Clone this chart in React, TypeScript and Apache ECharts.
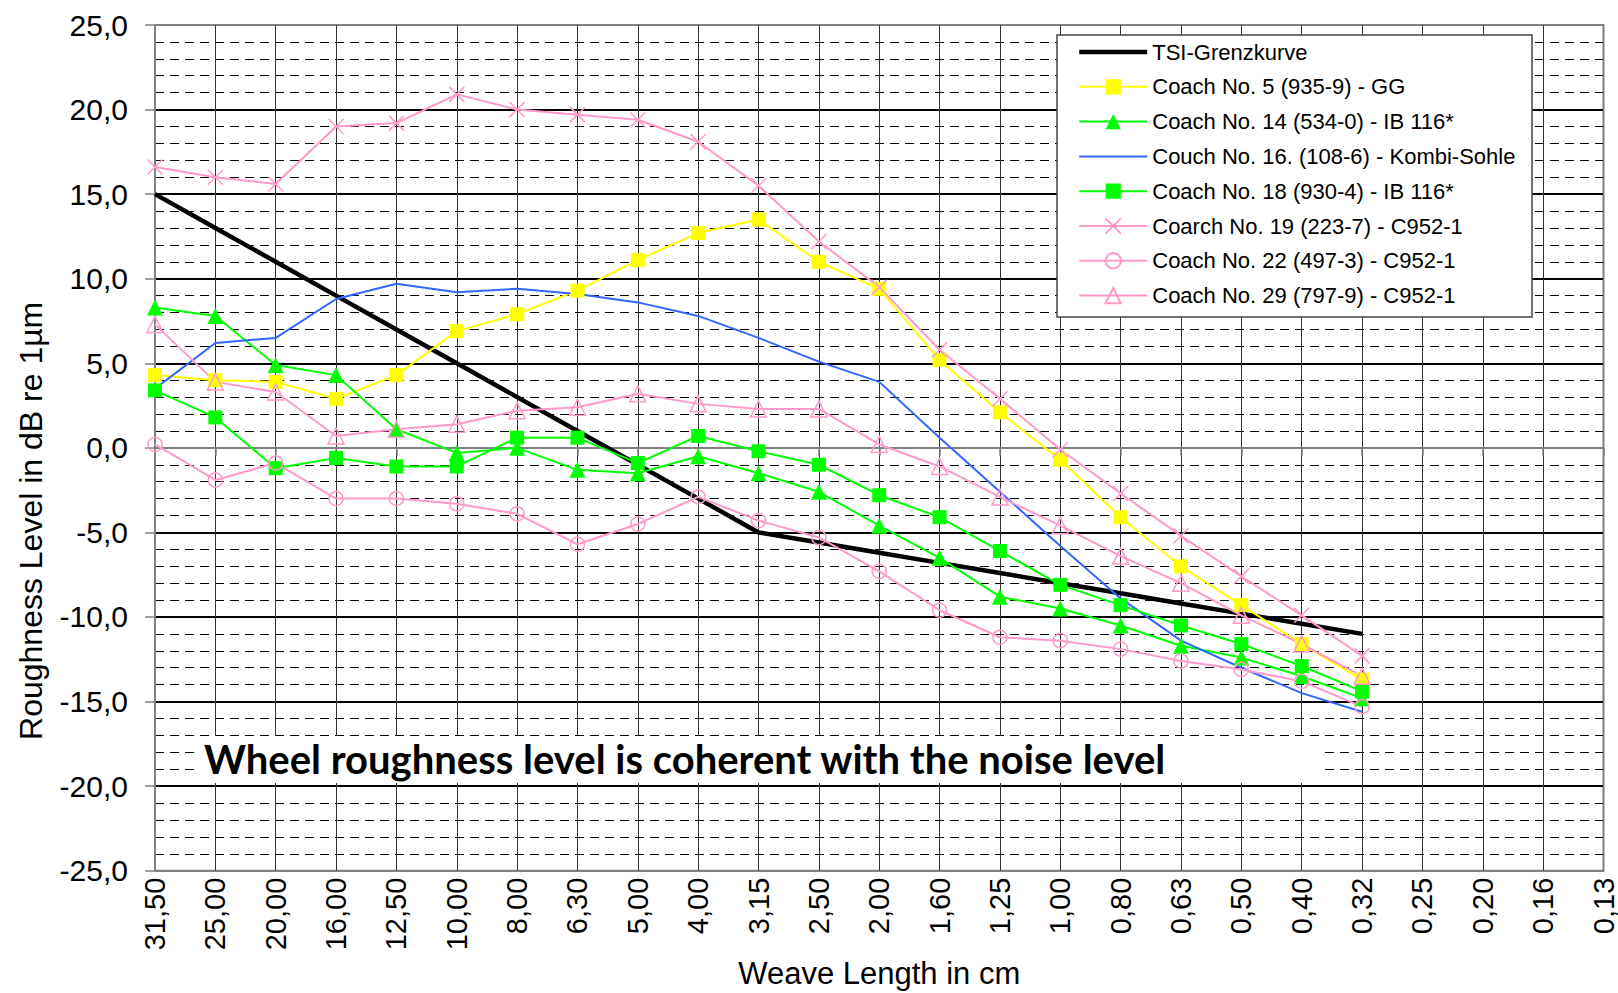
import React, { useEffect, useRef } from "react";
import * as echarts from "echarts";

const categories = [
  "31,50", "25,00", "20,00", "16,00", "12,50", "10,00", "8,00", "6,30", "5,00",
  "4,00", "3,15", "2,50", "2,00", "1,60", "1,25", "1,00", "0,80", "0,63", "0,50",
  "0,40", "0,32", "0,25", "0,20", "0,16", "0,13",
];

const tsiLimit = [15.0, 13.0, 11.0, 9.0, 7.0, 5.0, 3.0, 1.0, -1.0, -3.0, -5.0, -5.6, -6.2, -6.8, -7.4, -8.0, -8.6, -9.2, -9.8, -10.4, -11.0];
const coach5 = [4.3, 4.0, 3.9, 2.9, 4.3, 6.9, 7.9, 9.3, 11.1, 12.7, 13.5, 11.0, 9.4, 5.2, 2.1, -0.7, -4.1, -7.0, -9.3, -11.6, -13.7];
const coach14 = [8.3, 7.8, 4.9, 4.3, 1.1, -0.3, 0.0, -1.3, -1.5, -0.5, -1.5, -2.6, -4.6, -6.5, -8.8, -9.5, -10.5, -11.7, -12.4, -13.5, -14.8];
const coach16 = [3.5, 6.2, 6.5, 8.8, 9.7, 9.2, 9.4, 9.1, 8.6, 7.8, 6.5, 5.1, 3.9, 0.6, -2.6, -5.8, -8.9, -11.4, -13.0, -14.5, -15.6];
const coach18 = [3.4, 1.8, -1.2, -0.6, -1.1, -1.1, 0.6, 0.6, -0.9, 0.7, -0.2, -1.0, -2.8, -4.1, -6.1, -8.1, -9.3, -10.5, -11.6, -12.9, -14.4];
const coach19 = [16.6, 16.0, 15.6, 19.0, 19.2, 20.9, 20.0, 19.7, 19.4, 18.1, 15.5, 12.2, 9.5, 5.8, 2.9, -0.1, -2.7, -5.2, -7.6, -9.9, -12.3];
const coach22 = [0.2, -1.9, -0.9, -3.0, -3.0, -3.3, -3.9, -5.7, -4.5, -2.9, -4.3, -5.3, -7.3, -9.6, -11.2, -11.4, -11.9, -12.6, -13.1, -13.8, -15.3];
const coach29 = [7.3, 3.9, 3.3, 0.7, 1.1, 1.4, 2.2, 2.4, 3.2, 2.6, 2.3, 2.3, 0.2, -1.1, -2.9, -4.6, -6.4, -8.0, -9.9, -11.6, -13.5];

const seriesNames = [
  "TSI-Grenzkurve",
  "Coach No. 5 (935-9) - GG",
  "Coach No. 14 (534-0) - IB 116*",
  "Couch No. 16. (108-6) - Kombi-Sohle",
  "Coach No. 18 (930-4) - IB 116*",
  "Coarch No. 19 (223-7) - C952-1",
  "Coach No. 22 (497-3) - C952-1",
  "Coach No. 29 (797-9) - C952-1",
];

const yTickValues = [-25, -20, -15, -10, -5, 0, 5, 10, 15, 20, 25];
const annotation = "Wheel roughness level is coherent with the noise level";
const yTitle = "Roughness Level in dB re 1µm";
const xTitle = "Weave Length in cm";

const FONT = "'Liberation Sans', Arial, sans-serif";
const YELLOW = "#FFFF00";
const GREEN = "#00FF00";
const BLUE = "#3366FF";
const PINK = "#FF99CC";

function buildOption() {
  const ySplitColors = yTickValues.map((v, i) =>
    i === 0 || i === yTickValues.length - 1 ? "#808080" : "#000000"
  );
  const xSplitColors = categories.map((c, i) =>
    i === 0 || i === categories.length - 1 ? "#808080" : "#333333"
  );
  const line = (name: string, data: number[], color: string, extra: any) => ({
    name,
    type: "line",
    data,
    color,
    lineStyle: { color, width: 2 },
    emphasis: { disabled: true },
    ...extra,
  });
  const noMarker = { color: "none", borderWidth: 0, opacity: 0 };
  return {
    animation: false,
    backgroundColor: "#ffffff",
    textStyle: { fontFamily: FONT },
    grid: {
      left: 155,
      top: 25,
      right: 14.5,
      bottom: 122.3,
      show: true,
      borderColor: "#808080",
      borderWidth: 2,
      backgroundColor: "transparent",
      containLabel: false,
      outerBoundsMode: "none",
    },
    legend: {
      orient: "vertical",
      left: 1077,
      top: 40,
      padding: 0,
      itemGap: 10.8,
      itemWidth: 68,
      itemHeight: 19,
      selectedMode: false,
      z: 5,
      textStyle: { fontSize: 22, fontFamily: FONT, color: "#000", lineHeight: 24 },
      data: seriesNames.map((n, i) => {
        if (i === 0) return { name: n, itemStyle: noMarker, lineStyle: { width: 4.5, color: "#000" } };
        if (i === 3) return { name: n, itemStyle: noMarker, lineStyle: { width: 2, color: BLUE } };
        return { name: n, lineStyle: { width: 2 } };
      }),
    },
    xAxis: {
      type: "category",
      data: categories,
      boundaryGap: false,
      name: xTitle,
      nameLocation: "middle",
      nameGap: 82,
      nameTextStyle: { fontSize: 31, lineHeight: 31, fontFamily: FONT, color: "#000" },
      axisLine: { show: true, lineStyle: { color: "#808080", width: 2 } },
      axisTick: { show: true, length: 8, lineStyle: { color: "#808080", width: 1.5 } },
      axisLabel: {
        rotate: 90,
        interval: 0,
        margin: 7,
        fontSize: 29,
        lineHeight: 21,
        fontFamily: FONT,
        color: "#000",
      },
      splitLine: { show: true, interval: 0, lineStyle: { color: xSplitColors, width: 1 } },
    },
    yAxis: {
      type: "value",
      min: -25,
      max: 25,
      interval: 5,
      name: yTitle,
      nameLocation: "middle",
      nameGap: 108,
      nameRotate: 90,
      nameTextStyle: { fontSize: 32, fontFamily: FONT, color: "#000", padding: [0, 146, 0, 0] },
      axisLine: { show: true, lineStyle: { color: "#808080", width: 2 } },
      axisTick: { show: true, length: 10, lineStyle: { color: "#808080", width: 1.5 } },
      axisLabel: {
        margin: 27,
        fontSize: 30,
        fontFamily: FONT,
        color: "#000",
        formatter: (v: number) => v.toFixed(1).replace(".", ","),
      },
      splitLine: { show: true, lineStyle: { color: ySplitColors, width: 2 } },
      minorTick: { show: false, splitNumber: 5 },
      minorSplitLine: { show: true, lineStyle: { color: "#000", width: 1, type: [9, 6] } },
    },
    series: [
      line(seriesNames[0], tsiLimit, "#000000", {
        symbol: "none",
        lineStyle: { color: "#000", width: 4.5 },
        itemStyle: noMarker,
      }),
      line(seriesNames[1], coach5, YELLOW, { symbol: "rect", symbolSize: 14, itemStyle: { color: YELLOW } }),
      line(seriesNames[2], coach14, GREEN, { symbol: "triangle", symbolSize: 16, itemStyle: { color: GREEN } }),
      line(seriesNames[3], coach16, BLUE, { symbol: "none", itemStyle: noMarker }),
      line(seriesNames[4], coach18, GREEN, { symbol: "rect", symbolSize: 14, itemStyle: { color: GREEN } }),
      line(seriesNames[5], coach19, PINK, {
        symbol: "path://M0,0L10,10M10,0L0,10",
        symbolSize: 15,
        itemStyle: { color: "none", borderColor: PINK, borderWidth: 1.5 },
      }),
      line(seriesNames[6], coach22, PINK, {
        symbol: "circle",
        symbolSize: 14,
        itemStyle: { color: "none", borderColor: PINK, borderWidth: 1.5 },
      }),
      line(seriesNames[7], coach29, PINK, {
        symbol: "triangle",
        symbolSize: 16,
        itemStyle: { color: "none", borderColor: PINK, borderWidth: 1.5 },
      }),
    ],
    graphic: [
      {
        type: "rect",
        z: 3,
        shape: { x: 1057, y: 35, width: 475, height: 282 },
        style: { fill: "#ffffff", stroke: "#444444", lineWidth: 1.5 },
      },
      {
        type: "rect",
        z: 3,
        shape: { x: 196, y: 736, width: 1128, height: 47 },
        style: { fill: "#ffffff" },
      },
      {
        type: "text",
        z: 4,
        x: 204,
        y: 759,
        style: {
          text: annotation,
          font: "bold 40px Lato, 'Liberation Sans', sans-serif",
          fill: "#000",
          textAlign: "left",
          textVerticalAlign: "middle",
        },
      },
    ],
  };
}

export default function App() {
  const ref = useRef<HTMLDivElement>(null);
  useEffect(() => {
    if (!ref.current) return;
    const chart = echarts.init(ref.current, null, { renderer: "svg" });
    chart.setOption(buildOption() as any);
    return () => chart.dispose();
  }, []);
  return (
    <div
      ref={ref}
      style={{ position: "absolute", left: 0, top: 0, width: 1618, height: 993, background: "#fff" }}
    />
  );
}
